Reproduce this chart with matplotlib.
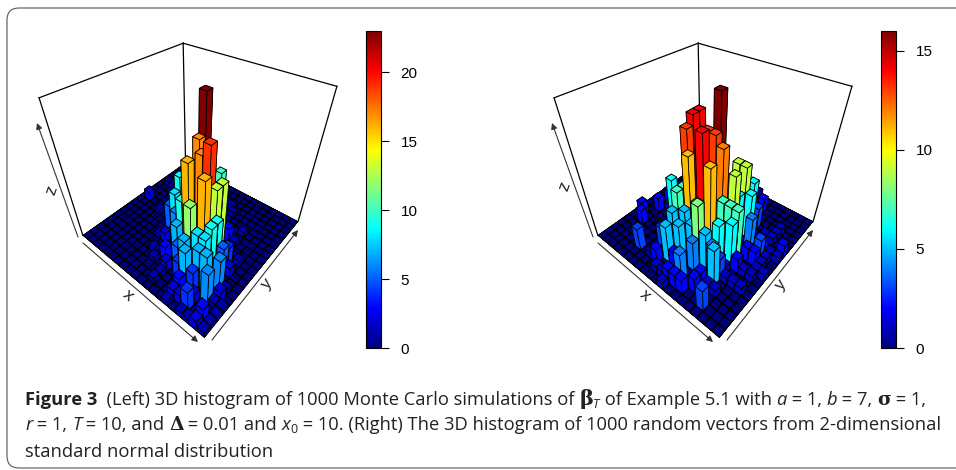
import numpy as np, matplotlib
matplotlib.use('Agg')
import matplotlib.pyplot as plt
from matplotlib.colors import LinearSegmentedColormap, Normalize
from matplotlib.cm import ScalarMappable
from matplotlib.patches import FancyBboxPatch

# Bin counts: rows are x bins, columns are y bins
counts_left = [
 [0,0,0,0,0,0,0,0,0,0,0,0,0,0,0,0,0,0,0,0],
 [0,0,0,0,0,0,0,0,0,0,2,0,0,0,1,0,0,0,0,0],
 [0,0,0,0,0,0,0,0,0,0,0,0,0,0,1,0,0,0,0,0],
 [0,0,0,0,0,0,0,0,0,0,0,0,0,0,0,0,0,0,0,0],
 [0,0,0,0,0,0,0,0,0,1,0,0,0,2,0,0,0,0,0,0],
 [0,0,0,0,0,0,0,0,0,0,0,0,0,0,0,0,0,0,0,0],
 [0,0,0,0,0,0,0,0,0,0,0,0,0,0,0,0,0,0,0,0],
 [0,0,0,0,0,0,1,0,5,0,9,0,0,0,0,0,0,0,0,0],
 [0,0,0,0,1,0,2,1,8,0,0,0,0,0,0,0,0,0,0,0],
 [0,0,0,1,0,0,0,6,0,0,0,0,0,0,0,0,0,0,0,0],
 [0,0,0,0,3,0,0,9,0,0,17,23,0,0,0,0,0,0,0,0],
 [0,1,1,2,0,7,0,16,10,0,0,0,0,10,0,0,1,0,0,0],
 [0,0,0,0,5,0,0,0,17,0,0,0,0,0,0,1,0,0,0,0],
 [0,0,0,4,7,12,7,0,19,0,0,0,0,0,0,0,0,0,0,0],
 [1,2,3,7,0,8,16,0,13,13,0,3,0,0,0,0,0,0,0,0],
 [0,2,0,4,7,8,9,9,0,0,0,1,0,1,0,0,0,0,0,0],
 [1,4,2,0,7,0,0,5,4,1,0,0,0,0,0,0,0,0,0,0],
 [1,0,0,6,0,6,0,2,0,1,0,0,0,0,0,0,0,0,0,0],
 [2,3,0,1,2,1,0,0,0,0,0,0,0,0,0,0,0,0,0,0],
 [1,1,1,1,0,0,0,0,0,0,0,0,0,0,0,0,0,0,0,0],
]
counts_right = [
 [0,0,0,0,0,0,0,0,0,0,0,0,0,0,0,0,0,0,0,0],
 [0,0,0,0,0,0,2,0,0,0,0,0,0,0,0,0,0,0,0,0],
 [0,0,0,0,0,2,0,0,2,0,2,0,0,0,0,0,0,0,0,0],
 [0,0,0,0,0,0,0,0,0,1,0,0,0,0,0,0,0,0,0,0],
 [0,0,0,0,0,0,0,0,0,0,0,0,0,0,0,0,0,0,0,0],
 [0,0,3,0,0,0,0,0,6,0,0,0,0,0,0,0,0,0,0,0],
 [0,0,0,0,0,0,0,0,0,0,0,0,0,0,0,0,0,0,0,0],
 [0,0,1,0,3,0,0,0,0,0,0,0,0,0,0,0,0,0,0,0],
 [0,0,2,0,0,5,7,7,13,14,14,0,0,0,0,0,0,0,0,0],
 [0,1,0,5,0,0,5,11,0,0,0,0,0,0,0,0,0,0,0,0],
 [0,1,0,2,5,0,0,0,0,13,0,16,0,0,0,0,0,0,0,0],
 [1,2,0,0,1,5,7,14,0,13,0,0,0,0,0,0,0,0,0,1],
 [0,2,4,0,4,8,0,11,0,12,0,0,9,0,0,0,0,0,0,0],
 [0,2,0,0,0,5,0,0,7,0,9,6,9,0,6,0,0,2,0,0],
 [0,0,2,2,0,4,6,5,7,0,0,0,6,0,3,0,0,0,0,0],
 [0,0,0,1,5,3,1,6,7,0,0,4,0,0,0,0,0,0,0,0],
 [0,3,0,1,0,1,0,2,0,2,0,0,0,1,0,0,0,0,0,0],
 [0,0,0,0,0,1,0,1,0,2,3,2,0,1,1,1,0,0,0,0],
 [0,0,0,0,0,1,0,1,1,1,1,1,0,0,0,0,0,0,0,0],
 [0,0,0,0,0,0,0,0,1,0,0,1,2,0,0,0,0,0,0,0],
]
zmax_left, zmax_right = 23, 16
ticks_left = [0, 5, 10, 15, 20]
ticks_right = [0, 5, 10, 15]
jet_colours = ['#00007F','#0000FF','#007FFF','#00FFFF','#7FFF7F','#FFFF00','#FF7F00','#FF0000','#7F0000']

W, H = 956, 470
ELEV, AZIM, FOCAL, ZASPECT, ROLL = 38.834, -49.542, .209, .963, .207
SCALE, TX, TY = 1590.6, 192.4, 171.1
VX0, VX1, VY0, VY1 = -.095, .09, -.095, .09
BW = .93

fig = plt.figure(figsize=(W/100, H/100), dpi=100)
ov = fig.add_axes([0, 0, 1, 1]); ov.set_xlim(0, W); ov.set_ylim(H, 0); ov.axis('off')
cm = LinearSegmentedColormap.from_list('jetcol', jet_colours, 256)

def draw(g, zm, dx):
    S = SCALE*(VX1-VX0); Sh = SCALE*(VY1-VY0)
    l = TX+VX0*SCALE+dx; t = TY-VY1*SCALE
    a = fig.add_axes([l/W, 1-(t+Sh)/H, S/W, Sh/H], projection='3d')
    a.computed_zorder = False
    a.view_init(ELEV, AZIM, ROLL)
    a.set_proj_type('persp', focal_length=FOCAL)
    a.set_box_aspect((1, 1, ZASPECT))
    nx = len(g); ny = len(g[0])
    for p, q in [((0,0,0),(0,0,zm)), ((0,ny,0),(0,ny,zm)), ((nx,ny,0),(nx,ny,zm)),
                 ((0,0,zm),(0,ny,zm)), ((0,ny,zm),(nx,ny,zm))]:
        a.plot(*zip(p, q), color='k', lw=.9, zorder=1, clip_on=False)
    a.bar3d(0, 0, 0, nx, ny, .001, color='k', shade=False, zorder=5, clip_on=False)
    n = 10
    o = (1-BW)/2
    for i in range(nx):
        for j in range(ny-1, -1, -1):
            n += 1
            v = g[i][j]
            a.bar3d(i+o, j+o, 0, BW, BW, v if v else .001, color=cm(v/zm), shade=False,
                    edgecolor='k', linewidth=.55, zorder=n, clip_on=False)
    a.set_xlim(0, nx, view_margin=0); a.set_ylim(0, ny, view_margin=0); a.set_zlim(0, zm, view_margin=0)
    a.set_axis_off(); a.patch.set_alpha(0)

draw(counts_left, zmax_left, 0)
draw(counts_right, zmax_right, 515)

def furn(dx):
    for p, q in [((83,243),(198,342)), ((212,340),(298,230)), ((78,237),(37,123))]:
        ov.annotate('', xy=(q[0]+dx, q[1]), xytext=(p[0]+dx, p[1]),
                    arrowprops=dict(arrowstyle='-|>', color='#333', lw=.8, shrinkA=0, shrinkB=0, mutation_scale=9))
furn(0); furn(515)
for t, x, y, r in [('x',128,295,-40), ('y',267,284,50), ('z',52,190,70),
                   ('x',645,295,-40), ('y',781,285,50), ('z',565,186,70)]:
    ov.text(x, y, t, rotation=r, ha='center', va='center', family='Liberation Sans',
            fontsize=12.5, color='#222', rotation_mode='anchor')

def cbar(x, zm, ticks):
    c = fig.add_axes([x/W, 1-348/H, 15/W, 317/H])
    cb = fig.colorbar(ScalarMappable(Normalize(0, zm), cm), cax=c, ticks=ticks)
    cb.outline.set_linewidth(.8)
    c.tick_params(length=6, width=.8, labelsize=11, pad=8)
    for t in c.get_yticklabels():
        t.set_family('Liberation Sans')
cbar(366, zmax_left, ticks_left)
cbar(881, zmax_right, ticks_right)

ov.add_patch(FancyBboxPatch((7,8), 1100, 460, boxstyle='round,pad=0,rounding_size=12',
                            fc='none', ec='#555', lw=.8, clip_on=False))
R = dict(family='Open Sans', fontsize=13.25, color='#222')
B = dict(R, weight='bold'); I = dict(R, style='italic')
G = dict(family='DejaVu Serif', weight='bold', fontsize=13.5, color='#222')
def flow(x, y, pieces):
    r = fig.canvas.get_renderer()
    for t, st, dy in pieces:
        o = ov.text(x, y+dy, t, ha='left', va='baseline', **st)
        x += o.get_window_extent(r).width
flow(25, 405, [('Figure 3',B,0), ('  (Left) 3D histogram of 1000 Monte Carlo simulations of ',R,0),
               ('β',dict(G,fontsize=15),0), ('T',dict(I,fontsize=9),3), (' of Example 5.1 with ',R,0),
               ('a',I,0), (' = 1, ',R,0), ('b',I,0), (' = 7, ',R,0), ('σ',G,0), (' = 1,',R,0)])
flow(25, 430, [('r',I,0), (' = 1, ',R,0), ('T',I,0), (' = 10, and ',R,0), ('Δ',G,0), (' = 0.01 and ',R,0),
               ('x',I,0), ('0',dict(R,fontsize=9),3),
               (' = 10. (Right) The 3D histogram of 1000 random vectors from 2-dimensional',R,0)])
flow(25, 457, [('standard normal distribution',R,0)])
fig.savefig('out.png', dpi=100)
